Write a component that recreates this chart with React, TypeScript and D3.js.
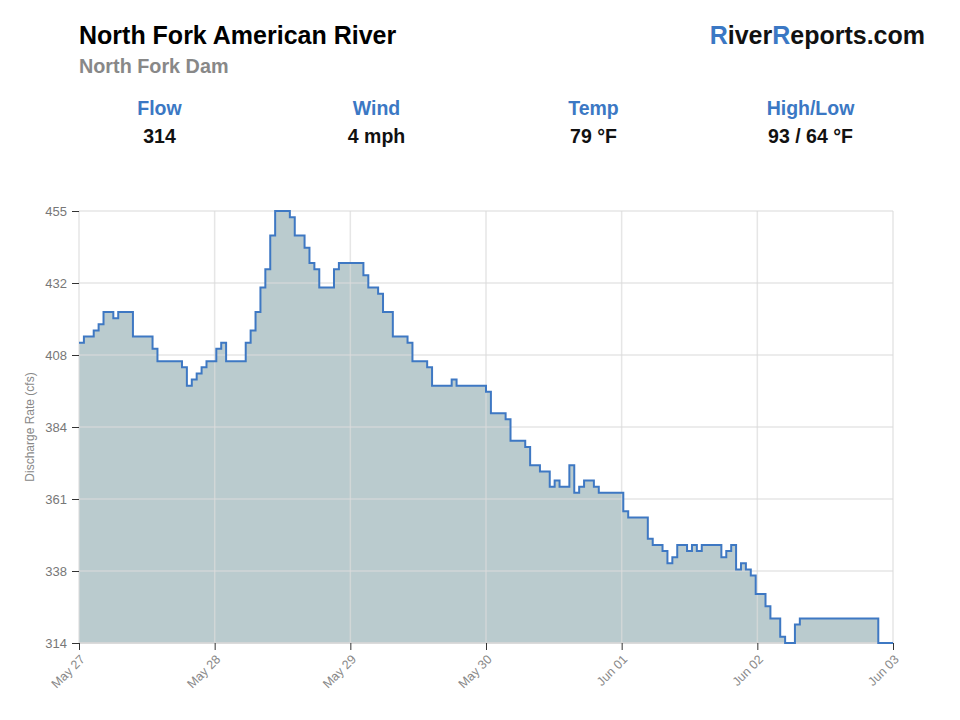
import React, { useEffect, useRef } from "react";
import {
  select,
  scaleLinear,
  area,
  line,
  curveStepAfter,
  axisLeft,
  axisBottom,
  range,
  min,
  max,
} from "d3";

// hourly gauge readings, kept only where the value changes (hours from first reading)
const flowHours = [
  0, 1, 3, 4, 5, 7, 8, 11, 15, 16, 21, 22, 23, 24, 25, 26, 28, 29, 30, 34, 35,
  36, 37, 38, 39, 40, 43, 44, 46, 47, 48, 49, 52, 53, 58, 59, 61, 62, 64, 67,
  68, 71, 72, 76, 77, 83, 84, 87, 88, 91, 92, 94, 96, 97, 98, 100, 101, 102,
  103, 105, 106, 111, 112, 116, 117, 119, 120, 121, 122, 124, 125, 126, 127,
  131, 132, 133, 134, 135, 136, 137, 138, 140, 141, 143, 144, 146, 147, 163,
  166,
];
const flowValues = [
  412, 414, 416, 418, 422, 420, 422, 414, 410, 406, 404, 398, 400, 402, 404,
  406, 410, 412, 406, 412, 416, 422, 430, 436, 447, 455, 453, 447, 443, 438,
  436, 430, 436, 438, 434, 430, 428, 422, 414, 412, 406, 404, 398, 400, 398,
  396, 389, 387, 380, 378, 372, 370, 365, 367, 365, 372, 363, 365, 367, 365,
  363, 357, 355, 348, 346, 344, 340, 342, 346, 344, 346, 344, 346, 342, 344,
  346, 338, 340, 338, 336, 330, 326, 322, 316, 314, 320, 322, 314, 314,
];

const yTickLabels = ["314", "338", "361", "384", "408", "432", "455"];
const xTickLabels = ["May 27", "May 28", "May 29", "May 30", "Jun 01", "Jun 02", "Jun 03"];

const statLabels = ["Flow", "Wind", "Temp", "High/Low"];
const statValues = ["314", "4 mph", "79 °F", "93 / 64 °F"];

const FONT = "'Liberation Sans', Arial, Helvetica, sans-serif";
const BLUE = "#3b78c4";

const App = () => {
  const ref = useRef<SVGSVGElement>(null);

  useEffect(() => {
    document.body.style.margin = "0";
    const width = 960;
    const height = 720;
    const marginTop = 211;
    const marginRight = 67;
    const marginBottom = 77;
    const marginLeft = 79;

    const svg = select(ref.current)
      .attr("width", width)
      .attr("height", height)
      .style("font-family", FONT);
    svg.selectAll("*").remove();

    // header
    svg
      .append("text")
      .attr("x", 79)
      .attr("y", 44)
      .attr("font-size", 25)
      .attr("font-weight", "bold")
      .attr("fill", "#000")
      .text("North Fork American River");
    svg
      .append("text")
      .attr("x", 79)
      .attr("y", 73)
      .attr("font-size", 19.8)
      .attr("font-weight", "bold")
      .attr("fill", "#888")
      .text("North Fork Dam");

    const brand = svg
      .append("text")
      .attr("x", 925)
      .attr("y", 44)
      .attr("text-anchor", "end")
      .attr("font-size", 25)
      .attr("font-weight", "bold")
      .attr("fill", "#111");
    brand.append("tspan").attr("fill", BLUE).text("R");
    brand.append("tspan").text("iver");
    brand.append("tspan").attr("fill", BLUE).text("R");
    brand.append("tspan").text("eports.com");

    // stats row
    const colW = 217;
    statLabels.forEach((lab, i) => {
      const cx = 51 + colW * i + colW / 2;
      svg
        .append("text")
        .attr("x", cx)
        .attr("y", 115)
        .attr("text-anchor", "middle")
        .attr("font-size", 19.5)
        .attr("font-weight", "bold")
        .attr("fill", BLUE)
        .text(lab);
      svg
        .append("text")
        .attr("x", cx)
        .attr("y", 143)
        .attr("text-anchor", "middle")
        .attr("font-size", 19.5)
        .attr("font-weight", "bold")
        .attr("fill", "#111")
        .text(statValues[i]);
    });

    // scales
    const x = scaleLinear()
      .domain([flowHours[0], flowHours[flowHours.length - 1]])
      .range([marginLeft, width - marginRight]);
    const yMin = min(flowValues) as number;
    const yMax = max(flowValues) as number;
    const y = scaleLinear()
      .domain([yMin, yMax])
      .range([height - marginBottom, marginTop]);

    const yTicks = range(yTickLabels.length).map(
      (i) => yMin + (i * (yMax - yMin)) / (yTickLabels.length - 1)
    );
    const x0 = flowHours[0];
    const x1 = flowHours[flowHours.length - 1];
    const xTicks = range(xTickLabels.length).map(
      (i) => x0 + (i * (x1 - x0)) / (xTickLabels.length - 1)
    );

    const pts = flowHours.map((h, i) => [h, flowValues[i]] as [number, number]);

    // area under the step line
    const areaGen = area<[number, number]>()
      .x((d) => x(d[0]))
      .y0(y(yMin))
      .y1((d) => y(d[1]))
      .curve(curveStepAfter);
    svg.append("path").datum(pts).attr("d", areaGen).attr("fill", "#bacbce");

    // grid lines (drawn over the fill)
    const grid = svg.append("g").attr("class", "grid");
    grid
      .selectAll(".hgrid")
      .data(yTicks)
      .join("line")
      .attr("x1", marginLeft)
      .attr("x2", width - marginRight)
      .attr("y1", (d) => y(d))
      .attr("y2", (d) => y(d))
      .attr("stroke", "#dcdcdc")
      .attr("stroke-opacity", 0.7)
      .attr("stroke-width", 1.5);
    grid
      .selectAll(".vgrid")
      .data(xTicks)
      .join("line")
      .attr("x1", (d) => x(d))
      .attr("x2", (d) => x(d))
      .attr("y1", marginTop)
      .attr("y2", height - marginBottom)
      .attr("stroke", "#dcdcdc")
      .attr("stroke-opacity", 0.7)
      .attr("stroke-width", 1.5);

    // bottom axis line
    svg
      .append("line")
      .attr("x1", marginLeft)
      .attr("x2", width - marginRight)
      .attr("y1", height - marginBottom)
      .attr("y2", height - marginBottom)
      .attr("stroke", "#d6d6d6")
      .attr("stroke-width", 1.5);

    // the step line
    const lineGen = line<[number, number]>()
      .x((d) => x(d[0]))
      .y((d) => y(d[1]))
      .curve(curveStepAfter);
    svg
      .append("path")
      .datum(pts)
      .attr("d", lineGen)
      .attr("fill", "none")
      .attr("stroke", "#3e78c3")
      .attr("stroke-width", 2);

    // y axis
    const yAxis = svg
      .append("g")
      .attr("transform", `translate(${marginLeft},0)`)
      .attr("color", "#333")
      .call(
        axisLeft(y)
          .tickValues(yTicks)
          .tickFormat((_, i) => yTickLabels[i])
          .tickSize(7)
          .tickPadding(5)
      );
    yAxis.select(".domain").remove();
    yAxis
      .selectAll(".tick text")
      .attr("fill", "#777")
      .attr("font-size", 13)
      .attr("font-family", FONT);

    svg
      .append("text")
      .attr("transform", `translate(34,${(marginTop + height - marginBottom) / 2}) rotate(-90)`)
      .attr("text-anchor", "middle")
      .attr("font-size", 12)
      .attr("fill", "#888")
      .text("Discharge Rate (cfs)");

    // x axis
    const xAxis = svg
      .append("g")
      .attr("transform", `translate(0,${height - marginBottom})`)
      .attr("color", "#333")
      .call(
        axisBottom(x)
          .tickValues(xTicks)
          .tickFormat((_, i) => xTickLabels[i])
          .tickSize(7)
      );
    xAxis.select(".domain").remove();
    xAxis
      .selectAll(".tick text")
      .attr("fill", "#888")
      .attr("font-size", 12.5)
      .attr("font-family", FONT)
      .attr("text-anchor", "end")
      .attr("x", null)
      .attr("y", null)
      .attr("dy", "0.35em")
      .attr("transform", "translate(3,14) rotate(-45)");
  }, []);

  return <svg ref={ref} style={{ display: "block" }} />;
};

export default App;
